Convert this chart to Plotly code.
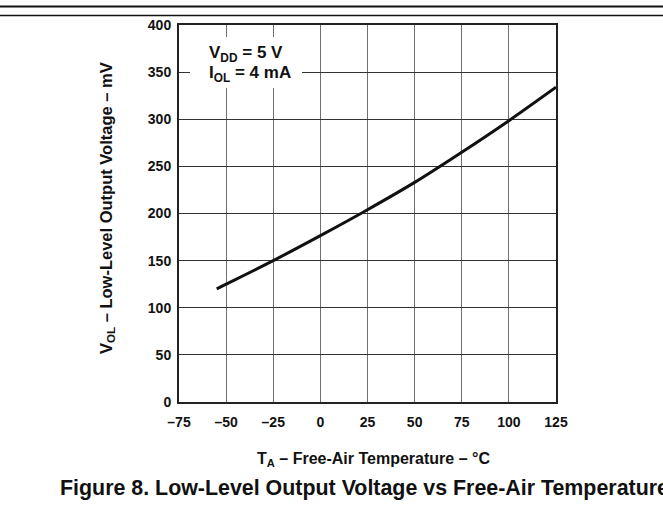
import plotly.graph_objects as go

# Data
temperature_c = [-55, -50, -25, 0, 25, 50, 75, 100, 125]
vol_mv = [120, 125, 150, 176.5, 204, 233, 265, 298.5, 334]

x_ticks = [-75, -50, -25, 0, 25, 50, 75, 100, 125]
y_ticks = [0, 50, 100, 150, 200, 250, 300, 350, 400]

W, H = 663, 529
L, R, T, B = 179, 107, 25, 127
PW, PH = W - L - R, H - T - B


def px(xp):
    return (xp - L) / PW


def py(yp):
    return (H - B - yp) / PH


FONT = "Liberation Sans, Arial, Helvetica, sans-serif"

fig = go.Figure()
fig.add_trace(go.Scatter(
    x=temperature_c, y=vol_mv, mode="lines",
    line=dict(color="#111111", width=3, shape="spline", smoothing=0.8),
    showlegend=False, hoverinfo="skip",
))

axis_common = dict(
    showline=True, linecolor="#222222", linewidth=2, mirror=True,
    ticks="", showgrid=True, zeroline=False,
    tickfont=dict(family=FONT, size=14, color="#111111", weight="bold"),
)

fig.update_xaxes(range=[-75, 125], tickvals=x_ticks,
                 ticktext=[("\u2013" + str(-v)) if v < 0 else str(v) for v in x_ticks],
                 gridcolor="#6f6f6f", gridwidth=1, ticklabelstandoff=6, **axis_common)
fig.update_yaxes(range=[0, 400], tickvals=y_ticks,
                 gridcolor="#333333", gridwidth=1, ticklabelstandoff=3, **axis_common)

label_font = dict(family=FONT, size=17, color="#111111", weight="bold")
annotations = [
    dict(text="V<sub>DD</sub> = 5 V",
         x=px(207), y=py(54), xref="paper", yref="paper",
         xanchor="left", yanchor="middle", showarrow=False, font=label_font),
    dict(text="I<sub>OL</sub> = 4 mA",
         x=px(207), y=py(74), xref="paper", yref="paper",
         xanchor="left", yanchor="middle", showarrow=False, font=label_font),
    dict(text="T<sub>A</sub> \u2013 Free-Air Temperature \u2013 \u00b0C",
         x=px(373), y=py(460), xref="paper", yref="paper",
         xanchor="center", yanchor="middle", showarrow=False,
         font=dict(family=FONT, size=16, color="#111111", weight="bold")),
    dict(text="V<sub>OL</sub> \u2013 Low-Level Output Voltage \u2013 mV",
         x=px(107), y=py(208), xref="paper", yref="paper",
         xanchor="center", yanchor="middle", showarrow=False, textangle=-90,
         font=dict(family=FONT, size=16.5, color="#111111", weight="bold")),
    dict(text="Figure 8. Low-Level Output Voltage vs Free-Air Temperature",
         x=px(58), y=py(488), xref="paper", yref="paper",
         xanchor="left", yanchor="middle", showarrow=False,
         font=dict(family=FONT, size=21.4, color="#111111", weight="bold")),
]

shapes = [
    # white box behind the condition label
    dict(type="rect", xref="paper", yref="paper", layer="above",
         x0=px(190), x1=px(302), y0=py(37), y1=py(88),
         fillcolor="white", line=dict(width=0)),
    # document header rules
    dict(type="line", xref="paper", yref="paper", x0=px(0), x1=px(W),
         y0=py(6.5), y1=py(6.5), line=dict(color="#111111", width=2)),
    dict(type="line", xref="paper", yref="paper", x0=px(0), x1=px(W),
         y0=py(15.5), y1=py(15.5), line=dict(color="#111111", width=1.5)),
]

fig.update_layout(
    width=W, height=H,
    margin=dict(l=L, r=R, t=T, b=B, pad=0),
    paper_bgcolor="white", plot_bgcolor="white",
    annotations=annotations, shapes=shapes,
    font=dict(family=FONT, color="#111111"),
)

fig.write_html(
    "out.html",
    config={"displayModeBar": False},
    post_script="document.body.style.margin='0';document.body.style.overflow='hidden';",
)
